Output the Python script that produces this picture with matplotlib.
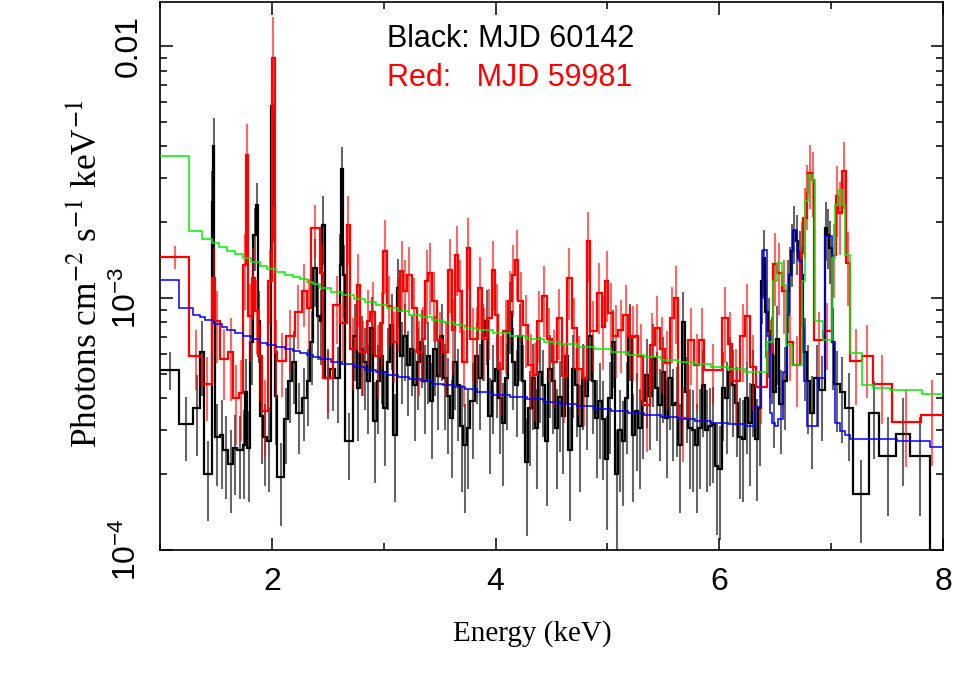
import numpy as np
import matplotlib
matplotlib.use("Agg")
import matplotlib.pyplot as plt
from matplotlib.ticker import FixedLocator, FixedFormatter, LogLocator, NullFormatter

# flux values are given in units of 1e-4 photons cm^-2 s^-1 keV^-1
SCALE = 1e-4

# ---------------- Black spectrum: MJD 60142 ----------------
black_edges = [
    1.000, 1.170, 1.298, 1.358, 1.393, 1.462, 1.471, 1.486, 1.492, 1.536, 1.566, 1.611, 1.656, 1.691,
    1.739, 1.760, 1.781, 1.805, 1.834, 1.858, 1.876, 1.894, 1.924, 1.959, 1.992, 2.013, 2.028, 2.049,
    2.108, 2.147, 2.177, 2.216, 2.266, 2.311, 2.341, 2.371, 2.401, 2.431, 2.446, 2.475, 2.520, 2.565,
    2.609, 2.618, 2.636, 2.654,
    2.729, 2.758, 2.788, 2.818, 2.848, 2.878, 2.908, 2.937, 2.967, 2.997, 3.027, 3.057, 3.086, 3.116,
    3.146, 3.176, 3.206, 3.236, 3.265, 3.295, 3.325, 3.355, 3.385, 3.415, 3.444, 3.474, 3.504, 3.534,
    3.564, 3.593, 3.623, 3.653, 3.683, 3.713, 3.742, 3.772,
    3.816, 3.846, 3.876, 3.905, 3.935, 3.965, 3.995, 4.025, 4.054, 4.084, 4.114, 4.144, 4.174, 4.203,
    4.233, 4.263, 4.293, 4.323, 4.352, 4.382, 4.412, 4.442, 4.472, 4.501, 4.531, 4.561, 4.591, 4.621,
    4.650, 4.680, 4.710, 4.740, 4.770, 4.799, 4.829, 4.859, 4.889, 4.919, 4.948, 4.978, 5.008, 5.038,
    5.068, 5.097, 5.127, 5.157, 5.187, 5.217,
    5.246, 5.276, 5.306, 5.335, 5.365, 5.395, 5.425, 5.455, 5.484, 5.514, 5.544, 5.574, 5.604, 5.633,
    5.663, 5.693, 5.723, 5.753, 5.782, 5.812, 5.842, 5.872, 5.902, 5.931, 5.961, 5.991, 6.021, 6.051,
    6.080, 6.110, 6.140, 6.170, 6.200, 6.229, 6.259, 6.289,
    6.319, 6.349, 6.372, 6.390, 6.408, 6.432, 6.456, 6.480, 6.503, 6.533, 6.572, 6.602, 6.623, 6.643,
    6.656, 6.686, 6.706, 6.730, 6.751, 6.781, 6.811, 6.846, 6.894, 6.942, 6.966, 6.984, 7.004, 7.028,
    7.079, 7.124, 7.192, 7.341, 7.430, 7.580, 7.705, 7.884, 8.000,
]
black_flux = [
    5.2, 3.15, 3.67, 6.1, 2.0, 24, 40, 8, 2.8, 2.85, 2.5, 2.2, 2.55, 2.5, 2.6, 4.25, 2.55, 6.7, 17.8,
    23.5, 8.1, 3.4, 2.8, 2.7, 58, 23.5, 4.1, 1.95, 3.3, 4.7, 5.6, 3.5, 4.0, 4.7, 6.7, 13.2, 8.5, 8.1,
    19.5, 4.8, 5.25, 4.8, 13.5, 32.4, 12.3, 2.7,
    7.1, 4.4, 6.3, 5.6, 4.7, 7.6, 3.25, 4.7, 5.9, 3.65, 5.6, 7.8, 2.85, 11, 5.9, 7.1, 5.4, 6.3, 4.5,
    5.6, 6.7, 4.7, 5.9, 3.9, 6.3, 4.9, 7.1, 4.8, 4.1, 3.33, 5.6, 4.5, 3.1, 2.6, 3.05, 3.9,
    5.9, 4.8, 7.1, 8.1, 3.4, 4.7, 5.25, 4.0, 3.2, 4.8, 8.8, 5.6, 4.5, 7.1, 4.7, 2.24, 3.65, 4.8, 3.05,
    5.1, 4.5, 2.7, 5.25, 4.7, 3.05, 4.05, 3.4, 5.9, 2.5, 5.25, 4.5, 3.1, 4.8, 4.1, 7.1, 4.7, 3.33, 3.9,
    3.3, 2.3, 4.0, 6.7, 2.0, 3.0, 2.7, 4.0, 7.1, 2.85,
    3.55, 3.05, 3.9, 4.95, 4.1, 5.8, 4.4, 3.75, 5.1, 3.33, 4.8, 3.75, 3.85, 2.6, 8.0, 4.25, 3.05, 3.0,
    2.6, 3.05, 4.5, 3.0, 3.1, 3.15, 2.15, 2.1, 4.4, 4.0, 5.1, 4.5, 3.85, 2.8, 2.75, 4.0, 3.2, 4.5,
    2.77, 3.65, 11.7, 14.4, 8.8, 7.4, 6.1, 4.25, 6.9, 3.8, 4.7, 10.7, 12.3, 15.4, 18.5, 16.8, 14.4,
    12.3, 6.1, 4.7, 3.5, 4.8, 4.3, 19, 17.8, 15.8, 6.7, 4.55, 4.25, 3.65, 1.67, 3.5, 2.37, 2.9, 2.37,
    0.5,
]
black_err = [
    0.9, 0.9, 1.3, 2.0, 0.7, 8, 12, 3, 1.0, 1.1, 0.9, 0.8, 0.9, 0.9, 1.0, 1.5, 1.0, 2.2, 5, 5, 2.6,
    1.2, 1.0, 1.0, 14, 7, 1.5, 0.7, 1.1, 1.5, 1.8, 1.1, 1.3, 1.6, 2.2, 4, 2.8, 2.7, 6, 1.5, 1.7, 1.6,
    4.5, 7.5, 4, 0.8,
    2.4, 1.7, 2.2, 2.0, 1.8, 2.5, 1.4, 1.8, 2.1, 1.5, 2.0, 2.6, 1.3, 3.3, 2.1, 2.4, 2.0, 2.2, 1.8,
    2.0, 2.3, 1.8, 2.1, 1.6, 2.2, 1.9, 2.4, 1.8, 1.7, 1.4, 2.0, 1.8, 1.4, 1.2, 1.3, 1.6,
    2.1, 1.8, 2.4, 2.7, 1.4, 1.8, 1.9, 1.6, 1.4, 1.8, 2.8, 2.0, 1.7, 2.4, 1.8, 1.1, 1.5, 1.8, 1.3,
    1.9, 1.7, 1.2, 1.9, 1.8, 1.3, 1.6, 1.4, 2.1, 1.2, 1.9, 1.7, 1.4, 1.8, 1.6, 2.4, 1.8, 1.4, 1.6,
    1.4, 1.1, 1.6, 2.3, 1.0, 1.3, 1.2, 1.6, 2.4, 1.3,
    1.5, 1.3, 1.6, 1.9, 1.6, 2.1, 1.7, 1.5, 1.9, 1.4, 1.8, 1.5, 1.5, 1.2, 2.6, 1.6, 1.3, 1.3, 1.2,
    1.3, 1.7, 1.3, 1.3, 1.3, 1.0, 1.0, 1.7, 1.6, 1.9, 1.7, 1.5, 1.2, 1.2, 1.6, 1.4, 1.7,
    1.2, 1.5, 3.8, 4.2, 3.0, 2.6, 2.3, 1.7, 2.4, 1.4, 1.7, 3.4, 3.6, 4.3, 4.8, 4.5, 4.0, 3.6, 2.2,
    1.8, 1.4, 1.7, 1.6, 5.0, 4.8, 4.4, 2.4, 1.6, 1.6, 1.4, 0.6, 1.2, 1.0, 1.1, 1.0, 0.4,
]

# ---------------- Red spectrum: MJD 59981 ----------------
red_edges = [
    1.000, 1.262, 1.378, 1.468, 1.492, 1.536, 1.611, 1.650, 1.709, 1.745, 1.769, 1.790, 1.819, 1.849,
    1.879, 1.909, 1.968, 1.998, 2.028, 2.049, 2.126, 2.207, 2.266, 2.311, 2.347, 2.431, 2.460, 2.550,
    2.609, 2.669, 2.699, 2.758, 2.788, 2.848, 2.878, 2.922, 2.967, 2.997, 3.027, 3.071, 3.116, 3.146,
    3.176, 3.206, 3.250, 3.295, 3.340, 3.370, 3.400, 3.429, 3.474, 3.534, 3.578, 3.608, 3.638, 3.668,
    3.697, 3.742, 3.772,
    3.816, 3.846, 3.876, 3.920, 3.965, 3.995, 4.025, 4.069, 4.114, 4.144, 4.174, 4.203, 4.248, 4.293,
    4.337, 4.367, 4.412, 4.457, 4.501, 4.546, 4.591, 4.635, 4.680, 4.725, 4.769, 4.814, 4.844, 4.903,
    4.948, 4.978, 5.008, 5.052, 5.097, 5.142, 5.187, 5.216,
    5.246, 5.276, 5.320, 5.380, 5.425, 5.470, 5.514, 5.559, 5.598, 5.633, 5.723, 5.776, 5.821, 5.866,
    6.027, 6.074, 6.116, 6.188, 6.229, 6.274, 6.325, 6.423, 6.483, 6.512, 6.557, 6.602, 6.662, 6.721,
    6.751, 6.781, 6.796, 6.826, 6.847, 6.930, 7.004, 7.040, 7.064, 7.094, 7.133, 7.168, 7.273, 7.377,
    7.541, 7.800, 8.000,
]
red_flux = [
    14.6, 5.9, 4.55, 12.0, 8.1, 5.75, 6.1, 4.0, 4.2, 13.5, 37, 8.5, 12.0, 8.9, 5.9, 3.55, 11.7, 90,
    6.1, 5.65, 7.05, 8.8, 10.7, 9.1, 19, 12.6, 4.8, 9.4, 7.95, 19.5, 6.3, 11.3, 6.1, 8.1, 8.8, 5.9,
    7.95, 15.4, 9.3, 6.7, 9.1, 12.8, 10.7, 12.3, 9.1, 6.1, 6.9, 11.7, 12.6, 9.7, 6.8, 6.1, 12.9, 7.45,
    14.8, 10.7, 5.6, 15.8, 6.9,
    6.9, 11, 6.9, 8.3, 12.9, 8.6, 5.25, 7.4, 9.7, 12.3, 14.2, 9.7, 7.8, 5.4, 4.95, 8.1, 10.2, 6.9,
    5.6, 8.3, 4.9, 12.0, 7.6, 5.25, 4.8, 16.8, 7.4, 10.5, 7.7, 11.7, 8.7, 7.1, 7.45, 8.6, 7.1, 7.0,
    7.05, 5.9, 3.75, 6.5, 7.6, 6.3, 5.5, 8.3, 10, 3.33, 6.8, 5.4, 6.8, 5.2, 8.3, 6.6, 4.7, 7.05, 8.5,
    5.35, 4.45, 6.1, 13.7, 12.6, 10.7, 6.7, 5.4, 15.1, 20.8, 26.2, 31.5, 29.5, 6.8, 7.4, 14.8, 25.5,
    21.8, 32, 13.8, 5.65, 5.9, 4.55, 3.23, 3.45,
]
red_err = [
    1.5, 1.6, 1.3, 4, 2.6, 1.8, 2.2, 1.4, 1.5, 4.5, 12, 2.9, 3.8, 2.9, 2.0, 1.2, 3.8, 40, 2.1, 1.6,
    1.9, 2.5, 3.0, 2.8, 4.5, 3.8, 1.3, 2.8, 2.4, 6, 2.0, 3.6, 2.0, 2.7, 2.8, 1.9, 2.6, 5, 2.9, 2.1,
    3.0, 4.0, 3.5, 3.6, 2.9, 2.0, 2.3, 3.8, 4.0, 3.0, 2.0, 2.0, 4.2, 2.5, 4.6, 3.4, 1.9, 5.0, 2.2,
    2.3, 3.5, 2.2, 2.6, 4.0, 2.8, 1.8, 2.4, 3.1, 3.9, 4.4, 3.0, 2.5, 1.8, 1.7, 2.6, 3.2, 2.2, 1.9,
    2.6, 1.7, 3.8, 2.4, 1.8, 1.7, 5.2, 2.3, 3.3, 2.5, 3.7, 2.8, 2.3, 2.4, 2.7, 2.3, 2.3,
    2.4, 2.0, 1.3, 2.2, 2.6, 2.1, 1.9, 2.8, 3.4, 1.1, 2.3, 1.8, 2.3, 1.4, 2.8, 2.2, 1.6, 2.4, 2.9,
    1.8, 1.3, 2.1, 4.4, 4.0, 3.5, 2.0, 1.7, 5.0, 6.5, 7.5, 9, 8.5, 2.0, 2.2, 4.8, 8, 7, 9.5, 4.5,
    1.9, 1.9, 1.4, 1.1, 1.3,
]

# ---------------- Blue model (fit to black) ----------------
blue_edges = [
    1.000, 1.170, 1.298, 1.358, 1.400, 1.48, 1.55, 1.60, 1.67, 1.74, 1.81, 1.89, 1.96, 2.04, 2.12,
    2.19, 2.25, 2.31, 2.37, 2.43, 2.53, 2.63, 2.73, 2.83, 2.93, 3.03, 3.13, 3.23, 3.33, 3.43, 3.53,
    3.63, 3.73, 3.83, 3.98, 4.13, 4.28, 4.43, 4.58, 4.73, 4.88, 5.03, 5.18, 5.33, 5.48, 5.63, 5.78,
    5.93, 6.08, 6.23, 6.319, 6.372, 6.393, 6.423, 6.453, 6.468, 6.497, 6.527, 6.572, 6.602, 6.623,
    6.646, 6.656, 6.698, 6.715, 6.736, 6.757, 6.781, 6.885, 6.945, 7.004, 7.034, 7.079, 7.124, 7.168,
    7.585, 7.884, 8.000,
]
blue_model = [
    11.8, 9.1, 8.6, 8.4, 8.15, 7.9, 7.7, 7.5, 7.25, 7.05, 6.85, 6.65, 6.5, 6.38, 6.25, 6.15, 6.05,
    5.95, 5.85, 5.72, 5.58, 5.45, 5.33, 5.2, 5.08, 4.97, 4.86, 4.76, 4.67, 4.58, 4.5, 4.42, 4.34,
    4.25, 4.14, 4.05, 3.96, 3.88, 3.8, 3.72, 3.64, 3.57, 3.5, 3.43, 3.36, 3.3, 3.25, 3.2, 3.16, 3.12,
    3.68, 10, 15.5, 7.1, 3.5, 3.2, 3.1, 3.3, 5.1, 8.6, 12.3, 15.4, 18.6, 15.4, 14, 7.7, 4.7, 3.1, 4.8,
    17.6, 6.7, 3.2, 2.96, 2.85, 2.77, 2.7, 2.57,
]

# ---------------- Green model (fit to red) ----------------
green_edges = [
    1.000, 1.262, 1.377, 1.468, 1.53, 1.60, 1.67, 1.74, 1.81, 1.89, 1.96, 2.04, 2.12, 2.19, 2.25,
    2.31, 2.37, 2.43, 2.53, 2.63, 2.73, 2.83, 2.93, 3.03, 3.13, 3.23, 3.33, 3.43, 3.53, 3.63, 3.73,
    3.83, 3.98, 4.13, 4.28, 4.43, 4.58, 4.73, 4.88, 5.03, 5.18, 5.33, 5.48, 5.63, 5.78, 5.93, 6.08,
    6.23, 6.423, 6.483, 6.512, 6.557, 6.593, 6.647, 6.736, 6.766, 6.796, 6.826, 6.855, 6.93, 7.004,
    7.034, 7.064, 7.094, 7.124, 7.168, 7.273, 7.377, 7.526, 7.809, 8.000,
]
green_model = [
    36.5, 18.5, 17.2, 16.5, 15.9, 15.4, 14.9, 14.4, 13.9, 13.4, 13.0, 12.7, 12.4, 12.15, 11.9, 11.6,
    11.35, 11.0, 10.6, 10.25, 9.95, 9.65, 9.38, 9.1, 8.85, 8.6, 8.4, 8.2, 8.0, 7.8, 7.63, 7.45, 7.25,
    7.05, 6.87, 6.7, 6.55, 6.4, 6.25, 6.1, 5.97, 5.84, 5.7, 5.58, 5.46, 5.35, 5.24, 5.1, 6.7, 11.7,
    13.8, 11.3, 6.5, 5.4, 11.7, 24.3, 30.9, 29.3, 8.1, 6.8, 14.4, 23.4, 26.9, 23.4, 14.8, 6.04, 4.5,
    4.4, 4.3, 4.15,
]

legend_lines = ["Black: MJD 60142", "Red:   MJD 59981"]
legend_colors = ["black", "red"]
x_ticks = [2, 4, 6, 8]
x_minor = [1, 3, 5, 7]
y_ticks = [1e-4, 1e-3, 1e-2]
y_labels = [r"$\mathregular{10^{-4}}$", r"$\mathregular{10^{-3}}$", "0.01"]

plt.rcParams["font.family"] = ["Liberation Sans", "DejaVu Sans"]
plt.rcParams["mathtext.fontset"] = "stix"

fig = plt.figure(figsize=(9.69, 6.96), dpi=100)
ax = fig.add_axes([0.16512, 0.20977, 0.80805, 0.78736])


def centers(edges):
    e = np.asarray(edges, dtype=float)
    return 0.5 * (e[:-1] + e[1:])


def draw_data(edges, flux, err, color, z):
    f = np.asarray(flux, dtype=float) * SCALE
    er = np.asarray(err, dtype=float) * SCALE
    ax.errorbar(centers(edges), f, yerr=er, fmt="none", ecolor=color, elinewidth=1.5,
                alpha=0.6, zorder=z)
    ax.stairs(f, edges, baseline=None, color=color, linewidth=1.6, zorder=z + 0.5)


assert len(black_edges) == len(black_flux) + 1 == len(black_err) + 1
assert len(red_edges) == len(red_flux) + 1 == len(red_err) + 1
assert len(blue_edges) == len(blue_model) + 1
assert len(green_edges) == len(green_model) + 1

draw_data(black_edges, black_flux, black_err, "black", 2)
draw_data(red_edges, red_flux, red_err, "#ff0000", 4)
ax.stairs(np.asarray(blue_model) * SCALE, blue_edges, baseline=None, color="#0000ff",
          linewidth=1.1, zorder=6)
ax.stairs(np.asarray(green_model) * SCALE, green_edges, baseline=None, color="#00ee00",
          linewidth=1.1, zorder=7)

ax.set_xlim(1, 8)
ax.set_yscale("log")
ax.set_ylim(1e-4, 0.01497)

ax.xaxis.set_major_locator(FixedLocator(x_ticks))
ax.xaxis.set_major_formatter(FixedFormatter([str(t) for t in x_ticks]))
ax.xaxis.set_minor_locator(FixedLocator(x_minor))
ax.yaxis.set_major_locator(FixedLocator(y_ticks))
ax.yaxis.set_major_formatter(FixedFormatter(y_labels))
ax.yaxis.set_minor_locator(LogLocator(base=10, subs=np.arange(2, 10)))
ax.yaxis.set_minor_formatter(NullFormatter())

ax.tick_params(which="both", direction="in", top=True, right=True, width=1.1)
ax.tick_params(which="major", length=9, labelsize=23)
ax.tick_params(which="minor", length=5)
ax.tick_params(axis="x", pad=12)
ax.tick_params(axis="y", labelrotation=90, pad=12)
for lab in ax.get_yticklabels():
    lab.set_verticalalignment("center")

for s in ax.spines.values():
    s.set_linewidth(1.2)

ax.set_xlabel("Energy (keV)", family="Liberation Serif", fontsize=21)
ax.xaxis.set_label_coords(0.476, -0.128)
ax.set_ylabel(r"Photons cm$^{-2}$ s$^{-1}$ keV$^{-1}$", family="Liberation Serif", fontsize=25.5)
ax.yaxis.set_label_coords(-0.070, 0.505)

ax.text(0.29, 0.918, legend_lines[0], transform=ax.transAxes, fontsize=22,
        color=legend_colors[0], va="baseline", ha="left")
ax.text(0.29, 0.847, legend_lines[1], transform=ax.transAxes, fontsize=22,
        color=legend_colors[1], va="baseline", ha="left")

fig.savefig("out.png", dpi=100)
